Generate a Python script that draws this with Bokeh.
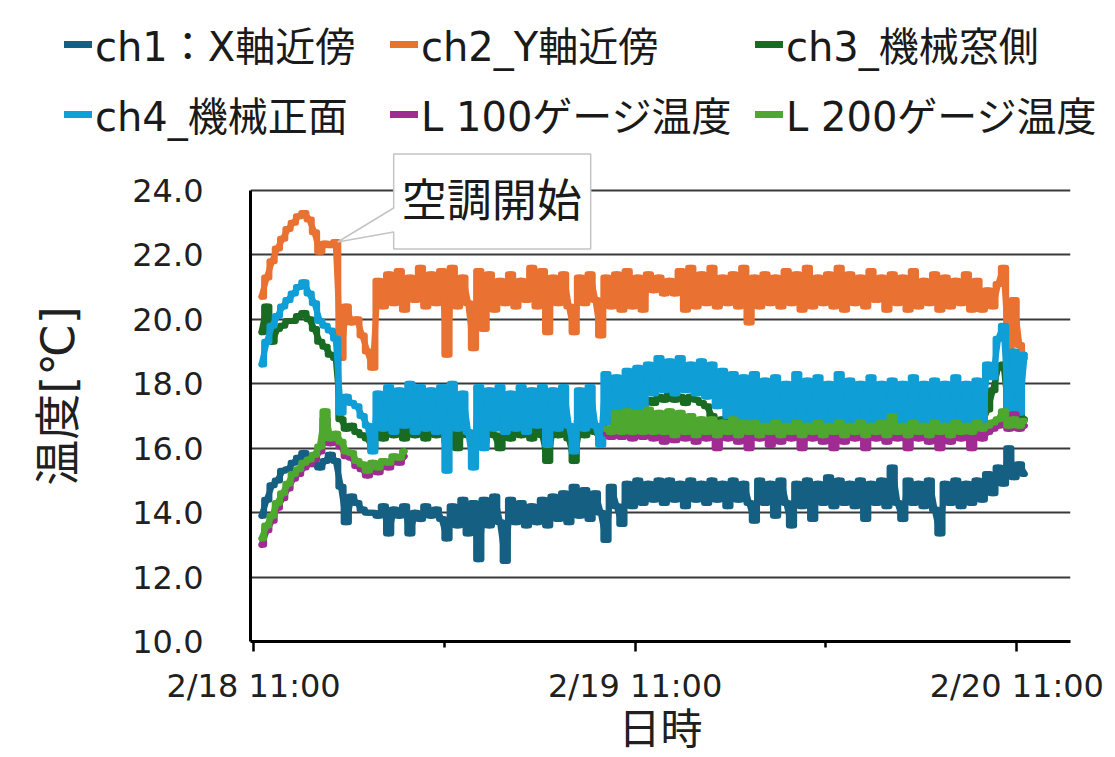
import numpy as np
from bokeh.plotting import figure
from bokeh.layouts import column
from bokeh.models import (Range1d, FixedTicker, PrintfTickFormatter, Legend,
                          LegendItem, ColumnDataSource)
from bokeh.core.properties import value
from bokeh.embed import file_html
from bokeh.resources import INLINE

NaN = float("nan")

# Logger readings: first sample 2/18 11:30, then one every 20 minutes.
# Time is expressed in hours since 2/18 11:00.
START_H = 0.5
STEP_H = 1.0 / 3.0

ch1 = [
    13.9, 14.4, 14.85, 15.0, 15.3, 15.35, 15.55, 15.7, 15.85, 15.6,
    15.5, 15.4, 15.6, 15.8, 15.6, 14.8, 13.7, 14.5, 14.3, 14.1,
    14.0, 14.0, 13.9, 14.2, 13.35, 14.1, 13.9, 14.2, 13.35, 14.0,
    13.8, 14.2, 13.9, 14.1, 13.8, 13.2, 14.2, 13.6, 14.4, 13.35,
    14.3, 12.55, 14.4, 13.6, 14.5, 13.7, 12.5, 14.4, 13.7, 14.3,
    13.6, 14.2, 13.7, 14.4, 13.6, 14.5, 13.8, 14.6, 13.7, 14.8,
    13.9, 14.7, 13.8, 14.6, 14.0, 13.15, 14.8, 14.2, 13.65, 14.9,
    14.2, 15.0, 14.3, 14.9, 14.4, 15.0, 14.3, 15.0, 14.4, 14.9,
    14.2, 15.0, 14.4, 14.9, 14.3, 15.0, 14.4, 14.9, 14.2, 15.0,
    14.4, 14.9, 14.3, 13.75, 15.0, 14.3, 14.9, 13.9, 15.0, 14.3,
    13.6, 14.9, 14.2, 15.0, 13.8, 14.9, 14.3, 15.1, 14.2, 15.0,
    14.3, 14.9, 14.2, 15.0, 13.8, 14.9, 14.3, 15.0, 14.2, 15.4,
    14.3, 13.8, 15.0, 14.3, 14.9, 14.2, 15.0, 14.1, 13.35, 14.9,
    14.3, 15.0, 14.2, 14.9, 14.3, 15.0, 14.4, 15.2, 14.6, 15.4,
    14.9, 16.0, 15.1, 15.5, 15.2,
]

ch2 = [
    20.7, 21.3, 21.8, 22.2, 22.5, 22.8, 23.0, 23.2, 23.3, 23.1,
    22.7, 22.1, 22.35, 22.3, 22.4, 18.8, 20.4, 19.9, 20.0, 19.5,
    19.0, 18.5, 21.2, 20.4, 21.4, 20.5, 21.5, 20.3, 21.3, 20.6,
    21.6, 20.4, 21.4, 20.5, 21.5, 18.9, 21.6, 20.4, 21.3, 20.5,
    19.1, 21.5, 19.7, 21.4, 20.3, 21.2, 20.5, 21.4, 20.4, 21.2,
    20.6, 21.6, 20.4, 21.5, 19.6, 21.3, 20.5, 21.4, 20.4, 19.6,
    21.3, 20.5, 21.4, 20.6, 19.5, 21.3, 20.4, 21.4, 20.3, 21.5,
    20.4, 21.3, 20.3, 21.4, 20.9, 21.3, 20.8, 21.2, 20.8, 21.5,
    20.3, 21.6, 20.4, 21.4, 20.5, 21.6, 20.4, 21.3, 20.5, 21.4,
    20.4, 21.6, 19.9, 21.3, 20.4, 21.4, 20.5, 21.3, 20.4, 21.5,
    20.5, 21.4, 20.3, 21.6, 20.4, 21.3, 20.5, 21.4, 20.4, 21.6,
    20.3, 21.4, 20.5, 21.3, 20.4, 21.5, 20.6, 21.3, 20.3, 21.4,
    20.5, 21.3, 20.3, 21.5, 20.4, 21.2, 20.5, 21.4, 20.3, 21.3,
    20.4, 21.2, 20.5, 21.4, 20.3, 21.2, 20.3, 20.9, 20.4, 21.1,
    21.6, 19.0, 20.6, 19.2, 18.8,
]

ch3 = [
    19.6, 20.4, 19.3, 19.7, 19.8, 19.95, 19.95, 20.1, 20.2, 20.0,
    19.7, 19.3, 19.15, 18.9, 18.8, 16.9, 16.6, 16.7, 16.5, 16.4,
    16.3, 16.0, 16.5, 16.3, 16.6, 16.4, 16.7, 16.3, 16.6, 16.4,
    16.7, 16.3, 16.6, 16.4, 16.6, 16.2, 16.7, 16.0, 16.6, 16.4,
    16.3, 16.6, 16.2, 16.7, 16.4, 16.0, 16.6, 16.3, 16.7, 16.4,
    16.6, 16.3, 16.7, 16.4, 15.6, 16.6, 16.4, 16.7, 16.3, 15.6,
    16.6, 16.4, 16.7, 16.5, 16.3, 16.9, 16.8, 17.0, 16.9, 17.1,
    17.0, 17.2, 17.3, 17.5, 17.4, 17.6, 17.5, 17.7, 17.5, 17.6,
    17.4, 17.6, 17.5, 17.4, 17.3, 17.0, 16.8, 16.9, 16.7, 16.8,
    16.6, 16.8, 16.6, 16.7, 16.5, 16.8, 16.6, 16.7, 16.5, 16.8,
    16.6, 16.7, 16.5, 16.8, 16.6, 16.7, 16.5, 16.8, 16.6, 16.7,
    16.5, 16.8, 16.6, 16.7, 16.5, 16.8, 16.6, 16.7, 16.5, 16.8,
    16.6, 16.7, 16.5, 16.8, 16.6, 16.7, 16.5, 16.8, 16.6, 16.7,
    16.5, 16.8, 16.6, 16.7, 16.6, 16.7, 16.8, 17.2, 17.8, 18.5,
    18.6, 17.0, 16.9, 17.0, 16.9,
]

ch4 = [
    18.6, 19.3, 19.8, 20.1, 20.4, 20.6, 20.8, 21.0, 21.15, 20.8,
    20.5, 19.95, 19.8, 19.65, 19.4, 17.1, 17.6, 17.4, 17.3, 17.0,
    16.7, 15.9, 17.7, 16.6, 17.9, 16.5, 17.8, 16.7, 18.0, 16.5,
    17.9, 16.6, 17.8, 16.5, 17.9, 15.3, 18.0, 16.6, 17.7, 16.5,
    15.4, 17.9, 16.0, 17.8, 16.6, 17.9, 16.5, 17.7, 16.6, 17.9,
    16.5, 17.8, 16.7, 17.9, 16.1, 17.8, 16.6, 17.9, 16.7, 15.9,
    17.8, 16.6, 17.9, 16.7, 16.1, 18.3, 16.8, 18.2, 16.9, 18.4,
    17.0, 18.5, 17.2, 18.6, 17.7, 18.8, 17.8, 18.7, 17.7, 18.8,
    17.8, 18.6, 17.7, 18.7, 17.6, 18.6, 17.3, 18.4, 17.0, 18.3,
    16.9, 18.2, 16.7, 18.3, 16.8, 18.1, 16.7, 18.2, 16.6, 18.0,
    16.8, 18.3, 16.7, 18.1, 16.6, 18.2, 16.7, 18.0, 16.8, 18.3,
    16.6, 18.1, 16.7, 18.0, 16.6, 18.2, 16.7, 18.0, 16.6, 18.1,
    16.7, 18.0, 16.6, 18.2, 16.7, 18.0, 16.5, 18.1, 16.6, 18.0,
    16.7, 18.2, 16.6, 18.0, 16.7, 18.1, 16.8, 18.6, 18.2, 19.4,
    19.8, 17.0, 19.0, 17.1, 18.9,
]

# Gauge sensors were offline overnight (2/18 20:30 - 2/19 09:00).
l100 = [
    13.0, 13.45, 13.75, 14.15, 14.45, 14.75, 15.05, 15.2, 15.4, 15.5,
    15.65, 15.9, 16.9, 16.15, 16.3, 16.05, 15.75, 15.7, 15.45, 15.35,
    15.15, 15.4, 15.25, 15.45, 15.4, 15.6, 15.55, 15.75,
] + [NaN] * 37 + [
    16.45, 16.35, 16.9, 16.35, 16.95,
    16.3, 16.9, 16.35, 17.0, 16.3, 16.9, 16.2, 16.95, 16.25, 16.9,
    16.3, 16.8, 16.2, 16.7, 16.3, 16.7, 16.0, 16.6, 16.3, 16.7,
    16.2, 16.6, 16.0, 16.6, 16.3, 16.5, 16.1, 16.6, 16.2, 16.5,
    16.3, 16.6, 16.0, 16.5, 16.3, 16.6, 16.2, 16.5, 16.0, 16.6,
    16.2, 16.5, 16.3, 16.6, 16.0, 16.5, 16.3, 16.6, 16.2, 16.8,
    16.3, 16.5, 16.0, 16.6, 16.3, 16.5, 16.2, 16.6, 16.0, 16.5,
    16.2, 16.6, 16.3, 16.5, 16.0, 16.6, 16.3, 16.5, 16.6, 16.7,
    17.0, 16.6, 17.05, 16.6, 16.7,
]

l200 = [
    13.2, 13.6, 13.9, 14.3, 14.6, 14.9, 15.2, 15.35, 15.55, 15.65,
    15.8, 16.05, 17.15, 16.3, 16.45, 16.2, 15.9, 15.85, 15.6, 15.5,
    15.3, 15.55, 15.4, 15.6, 15.55, 15.75, 15.7, 15.9,
] + [NaN] * 37 + [
    16.6, 16.5, 17.1, 16.5, 17.15,
    16.5, 17.1, 16.5, 17.2, 16.5, 17.1, 16.5, 17.15, 16.4, 17.1,
    16.5, 17.0, 16.4, 16.9, 16.5, 16.9, 16.4, 16.8, 16.5, 16.9,
    16.4, 16.8, 16.5, 16.8, 16.4, 16.7, 16.5, 16.8, 16.4, 16.7,
    16.5, 16.8, 16.4, 16.7, 16.5, 16.8, 16.4, 16.7, 16.5, 16.8,
    16.4, 16.7, 16.5, 16.8, 16.4, 16.7, 16.5, 16.8, 16.4, 17.0,
    16.5, 16.7, 16.4, 16.8, 16.5, 16.7, 16.4, 16.8, 16.5, 16.7,
    16.4, 16.8, 16.5, 16.7, 16.5, 16.8, 16.6, 16.7, 16.8, 16.9,
    17.15, 16.7, 16.9, 16.7, 16.85,
]

series_names = ["ch1：X軸近傍", "ch2_Y軸近傍", "ch3_機械窓側",
                "ch4_機械正面", "L 100ゲージ温度", "L 200ゲージ温度"]
series_values = [ch1, ch2, ch3, ch4, l100, l200]
series_colors = ["#156082", "#E97132", "#196B24", "#0F9ED5", "#A02B93", "#4EA72E"]

tick_hours = [0, 24, 48]
tick_labels = ["2/18 11:00", "2/19 11:00", "2/20 11:00"]
minor_hours = [12, 36]
y_ticks = [10, 12, 14, 16, 18, 20, 22, 24]

# callout marking when the air conditioning was switched on (ch2 reading)
callout_text = "空調開始"
callout_index = 14

JP = "DejaVu Sans, Noto Sans CJK JP"
W = 1115
LEG_H = 150          # legend strip on top
MAIN_H = 757 - LEG_H

# main plot frame geometry (pixels, inside the main figure)
FRAME_L, FRAME_R = 250, 1070
FRAME_T, FRAME_B = 0, 641 - LEG_H
X0, X1 = -0.19, 51.38
Y0, Y1 = 10.0, 25.24

p = figure(width=W, height=MAIN_H, output_backend="svg", toolbar_location=None,
           x_range=Range1d(X0, X1), y_range=Range1d(Y0, Y1),
           min_border_left=FRAME_L, min_border_right=W - FRAME_R,
           min_border_top=FRAME_T, min_border_bottom=MAIN_H - FRAME_B)
p.outline_line_color = None
p.background_fill_color = "white"
p.border_fill_color = "white"
p.frame_align = False

# grid
p.xgrid.visible = False
p.ygrid.ticker = FixedTicker(ticks=y_ticks)
p.ygrid.grid_line_color = "#3A3A3A"
p.ygrid.grid_line_width = 2

# y axis
ya = p.yaxis[0]
ya.ticker = FixedTicker(ticks=y_ticks)
ya.formatter = PrintfTickFormatter(format="%.1f")
ya.bounds = (10, 24)
ya.axis_line_color = "black"
ya.axis_line_width = 3
ya.major_tick_in = 0
ya.major_tick_out = 0
ya.minor_tick_in = 0
ya.minor_tick_out = 0
ya.major_label_standoff = 47
ya.major_label_text_font = "DejaVu Sans"
ya.major_label_text_font_size = "32px"
ya.major_label_text_color = "#202020"
ya.axis_label = "温度[℃]"
ya.axis_label_text_font = JP
ya.axis_label_text_font_size = "46px"
ya.axis_label_text_font_style = "normal"
ya.axis_label_text_color = "#202020"
ya.axis_label_standoff = 44

# x axis
xa = p.xaxis[0]
xa.ticker = FixedTicker(ticks=tick_hours, minor_ticks=minor_hours)
xa.major_label_overrides = {h: lab for h, lab in zip(tick_hours, tick_labels)}
xa.axis_line_color = "black"
xa.axis_line_width = 3
xa.major_tick_in = 0
xa.major_tick_out = 10
xa.major_tick_line_width = 2.5
xa.major_tick_line_color = "black"
xa.minor_tick_in = 0
xa.minor_tick_out = 6
xa.minor_tick_line_width = 2.5
xa.minor_tick_line_color = "black"
xa.major_label_standoff = 15
xa.major_label_text_font = "DejaVu Sans"
xa.major_label_text_font_size = "32px"
xa.major_label_text_color = "#202020"
xa.axis_label = "日時"
xa.axis_label_text_font = JP
xa.axis_label_text_font_size = "42px"
xa.axis_label_text_font_style = "normal"
xa.axis_label_text_color = "#202020"
xa.axis_label_standoff = -3

# each logged series: sample-and-hold trace plus the connecting line
for vals, color in zip(series_values, series_colors):
    hours = START_H + STEP_H * np.arange(len(vals))
    src = ColumnDataSource(data=dict(t=hours, v=np.array(vals, dtype=float)))
    p.step("t", "v", source=src, mode="center", line_color=color,
           line_width=6, line_join="round", line_cap="round")
    p.line("t", "v", source=src, line_color=color, line_width=6,
           line_join="round", line_cap="round")

# callout box with pointer, placed relative to the pointed reading
px_per_h = (FRAME_R - FRAME_L) / (X1 - X0)
px_per_deg = (FRAME_B - FRAME_T) / (Y1 - Y0)
ax = START_H + STEP_H * callout_index
ay = ch2[callout_index]


def off(dx, dy):
    return ax + dx / px_per_h, ay - dy / px_per_deg


box_pts = [off(58, -88), off(255, -88), off(255, 7), off(58, 7),
           off(58, -10), off(2, 0), off(58, -34)]
p.patch([q[0] for q in box_pts], [q[1] for q in box_pts],
        fill_color="white", line_color="#C4C4C4", line_width=1.5)
tx, ty = off(156, -44)
p.text(x=[tx], y=[ty], text=[callout_text], text_align="center",
       text_baseline="middle", text_font=value("Noto Sans CJK JP"),
       text_font_size="45px", text_color="#1A1A1A")

# legend strip: three columns, two rows
leg = figure(width=W, height=LEG_H, output_backend="svg", toolbar_location=None,
             x_range=Range1d(0, 1), y_range=Range1d(0, 1),
             x_axis_type=None, y_axis_type=None,
             min_border_left=0, min_border_right=0,
             min_border_top=0, min_border_bottom=0)
leg.outline_line_color = None
leg.xgrid.visible = False
leg.ygrid.visible = False
leg.frame_align = False

col_x = [64, 390, 755]
row_center = [48, 118]
ITEM_H = 50
for k, (name, color) in enumerate(zip(series_names, series_colors)):
    key = leg.line(x=[NaN], y=[NaN], line_color=color, line_width=7,
                   line_cap="round")
    top = row_center[k // 3] - ITEM_H / 2
    lg = Legend(items=[LegendItem(label=name, renderers=[key])],
                location=(col_x[k % 3], LEG_H - top - ITEM_H),
                orientation="horizontal", padding=0, margin=0, spacing=0,
                border_line_color=None, background_fill_alpha=0,
                glyph_width=28, glyph_height=ITEM_H, label_height=ITEM_H,
                label_standoff=3, label_text_font=JP,
                label_text_font_size="40px", label_text_color="#1A1A1A")
    leg.add_layout(lg, "center")

page = column(leg, p, spacing=0)
open("out.html", "w").write(file_html(page, INLINE))
